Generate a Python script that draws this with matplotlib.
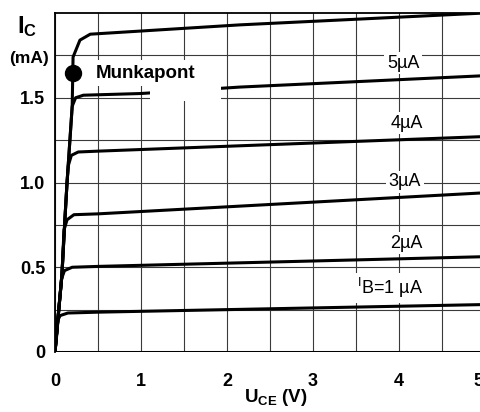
import numpy as np
import matplotlib
matplotlib.use('Agg')
import matplotlib.pyplot as plt
import matplotlib.transforms as mtransforms
from matplotlib.patches import Polygon

plt.rcParams['font.family'] = ['Liberation Sans', 'DejaVu Sans']
plt.rcParams['mathtext.fontset'] = 'custom'
plt.rcParams['mathtext.rm'] = 'Liberation Sans'
plt.rcParams['mathtext.bf'] = 'Liberation Sans:bold'

# kimeneti karakterisztikak, U_CE (V) -> I_C (mA), leolvasva a kepről
u_ib0 = [0.0, 5.2]
i_ib0 = [0.0, 0.0]

u_ib1 = [0.0, 0.02, 0.035, 0.06, 0.15, 0.5, 5.2]
i_ib1 = [0.0, 0.10, 0.19, 0.215, 0.23, 0.235, 0.282]

u_ib2 = [0.0, 0.035, 0.075, 0.11, 0.2, 0.5, 5.2]
i_ib2 = [0.0, 0.20, 0.43, 0.48, 0.50, 0.505, 0.565]

u_ib3 = [0.0, 0.035, 0.08, 0.105, 0.14, 0.22, 0.5, 5.2]
i_ib3 = [0.0, 0.20, 0.45, 0.72, 0.78, 0.81, 0.815, 0.945]

u_ib4 = [0.0, 0.035, 0.08, 0.116, 0.14, 0.155, 0.19, 0.27, 0.5, 5.2]
i_ib4 = [0.0, 0.20, 0.45, 0.79, 1.0, 1.10, 1.16, 1.18, 1.185, 1.275]

u_ib5 = [0.0, 0.035, 0.08, 0.116, 0.14, 0.2, 0.24, 0.33, 1.0, 2.15, 5.2]
i_ib5 = [0.0, 0.20, 0.45, 0.79, 1.0, 1.45, 1.50, 1.515, 1.525, 1.563, 1.635]

u_ib6 = [0.0, 0.035, 0.08, 0.116, 0.14, 0.2, 0.21, 0.29, 0.41, 2.15, 5.2]
i_ib6 = [0.0, 0.20, 0.45, 0.79, 1.0, 1.45, 1.74, 1.84, 1.875, 1.93, 2.005]

curves = [(u_ib0, i_ib0), (u_ib1, i_ib1), (u_ib2, i_ib2), (u_ib3, i_ib3),
          (u_ib4, i_ib4), (u_ib5, i_ib5), (u_ib6, i_ib6)]

# feliratok
cimkek = ['5µA', '4µA', '3µA', '2µA', r'$\mathregular{^I}$B=1 µA']
cimke_u = [4.05, 4.09, 4.07, 4.09, 3.90]
cimke_i = [1.705, 1.35, 1.003, 0.643, 0.378]

# munkapont
mp_u = 0.21
mp_i = 1.645

x_ticks = [0, 1, 2, 3, 4, 5]
y_ticks = [0, 0.5, 1.0, 1.5]
y_ticklabels = ['0', '0.5', '1.0', '1.5']

fig = plt.figure(figsize=(4.8, 4.12), dpi=100)
ax = fig.add_axes([55/480, 60/412, 5.2*86/480, 339/412])
ax.set_xlim(0, 5.2)
ax.set_ylim(0, 2.0)

ax.set_xticks(x_ticks)
ax.set_xticks(np.arange(0.5, 5.2, 1.0), minor=True)
ax.set_yticks(y_ticks)
ax.set_yticklabels(y_ticklabels)
ax.set_yticks([0.25, 0.75, 1.25, 1.75], minor=True)
ax.tick_params(which='both', length=0)
ax.tick_params(axis='x', pad=15, labelsize=13)
ax.tick_params(axis='y', pad=7, labelsize=13)
for t in ax.get_xticklabels() + ax.get_yticklabels():
    t.set_fontweight('bold')
# az utolso "5" kicsit balra, mint az eredetin
utolso = ax.get_xticklabels()[-1]
utolso.set_transform(utolso.get_transform() +
                     mtransforms.ScaledTranslation(-7/100, 0, fig.dpi_scale_trans))
ax.grid(which='both', color='#3a3a3a', linewidth=0.8, zorder=1)
ax.set_axisbelow(True)

for s in ['right', 'bottom']:
    ax.spines[s].set_visible(False)
for s in ['left', 'top']:
    ax.spines[s].set_linewidth(1.3)

for u, i in curves:
    ax.plot(u, i, color='black', linewidth=2.2, solid_capstyle='round', zorder=3)

# feher takaro a Munkapont felirat mogott
takaro = Polygon([(0.45, 1.57), (1.1, 1.57), (1.1, 1.48), (1.93, 1.48),
                  (1.93, 1.72), (0.45, 1.72)], closed=True,
                 facecolor='white', edgecolor='none', zorder=3.5)
ax.add_patch(takaro)
ax.text(0.477, mp_i, 'Munkapont', fontsize=13.5, fontweight='bold',
        ha='left', va='center', zorder=5)
ax.plot(mp_u, mp_i, 'o', color='black', markersize=11.5, zorder=6)

for c, u, i in zip(cimkek, cimke_u, cimke_i):
    ax.text(u, i, c, fontsize=13, ha='center', va='center', zorder=2.5,
            bbox=dict(boxstyle='square,pad=0.15', facecolor='white', edgecolor='none'))

# tengelyfeliratok
fig.text(17/480, 1 - 27/412, r'$\mathbf{I_C}$', fontsize=17, ha='left', va='center')
fig.text(29/480, 1 - 58/412, '(mA)', fontsize=12.5, fontweight='bold', ha='center', va='center')
fig.text(276/480, 1 - 398/412, r'$\mathbf{U_{CE}}$ (V)', fontsize=13.5, fontweight='bold',
         ha='center', va='center')

fig.savefig('out.png', dpi=100)
